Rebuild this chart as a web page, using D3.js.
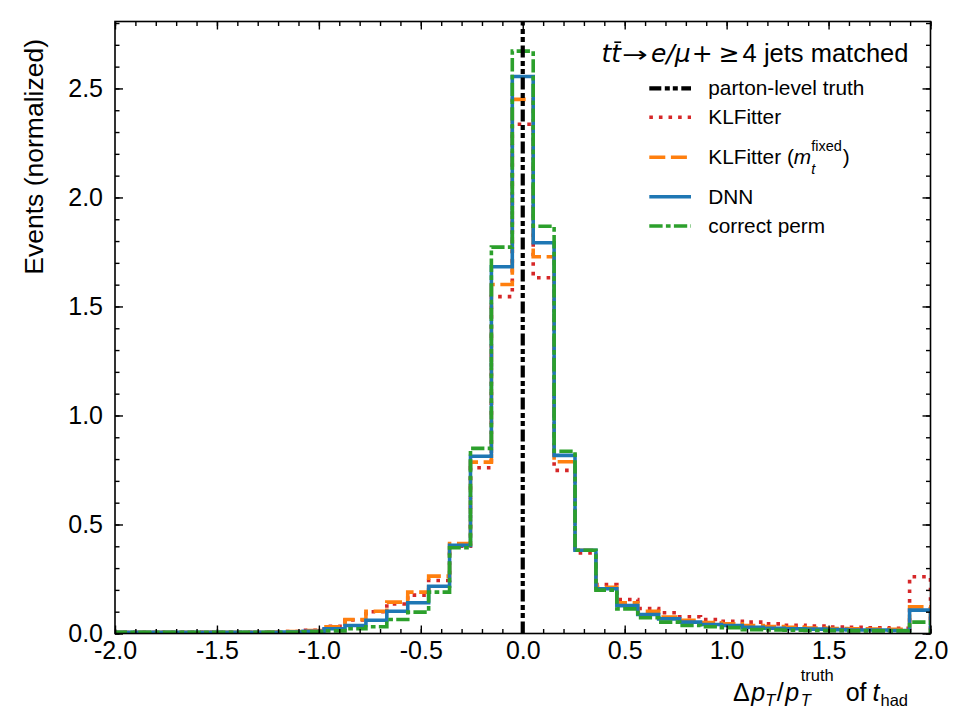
<!DOCTYPE html>
<html>
<head>
<meta charset="utf-8">
<script src="https://cdn.jsdelivr.net/npm/d3@7"></script>
<style>
  body { margin: 0; background: #fff; }
  svg text { font-family: "Liberation Sans", Arial, sans-serif; fill: #000; }
</style>
</head>
<body>
<div id="graph"></div>
<script>
// Limites del histograma y numero de bins (39 bins entre -2 y 2)
const limiteInferior = -2.0;
const limiteSuperior = 2.0;
const numBins = 39;

// Valor de la verdad a nivel de partones (linea vertical)
const valorVerdad = 0.0;

// Contenido de cada bin (normalizado)
const valoresKLFitter = [
    0.006, 0.006, 0.006, 0.006, 0.006, 0.006, 0.006, 0.007, 0.009, 0.015,
    0.033, 0.062, 0.100, 0.135, 0.176, 0.243, 0.400, 0.760, 1.545, 2.336,
    1.632, 0.748, 0.370, 0.225, 0.156, 0.115, 0.095, 0.077, 0.064, 0.056,
    0.052, 0.044, 0.038, 0.034, 0.030, 0.028, 0.026, 0.024, 0.260
];
const valoresKLFitterFijo = [
    0.006, 0.006, 0.006, 0.006, 0.006, 0.006, 0.006, 0.007, 0.009, 0.014,
    0.031, 0.064, 0.102, 0.144, 0.190, 0.263, 0.413, 0.786, 1.601, 2.450,
    1.728, 0.788, 0.382, 0.212, 0.141, 0.102, 0.075, 0.060, 0.050, 0.044,
    0.036, 0.032, 0.028, 0.025, 0.023, 0.021, 0.020, 0.019, 0.122
];
const valoresDNN = [
    0.006, 0.006, 0.006, 0.006, 0.006, 0.006, 0.006, 0.006, 0.007, 0.010,
    0.022, 0.037, 0.061, 0.102, 0.141, 0.217, 0.404, 0.813, 1.682, 2.555,
    1.792, 0.817, 0.382, 0.205, 0.128, 0.087, 0.067, 0.052, 0.041, 0.037,
    0.028, 0.024, 0.022, 0.020, 0.018, 0.016, 0.016, 0.014, 0.107
];
const valoresCorrectPerm = [
    0.006, 0.006, 0.006, 0.006, 0.006, 0.006, 0.006, 0.006, 0.006, 0.008,
    0.012, 0.022, 0.031, 0.064, 0.098, 0.190, 0.393, 0.849, 1.772, 2.671,
    1.868, 0.836, 0.382, 0.199, 0.113, 0.072, 0.052, 0.037, 0.031, 0.027,
    0.018, 0.016, 0.015, 0.014, 0.013, 0.012, 0.012, 0.012, 0.052
];

// Etiquetas de los ejes
const xTicks = [-2.0, -1.5, -1.0, -0.5, 0.0, 0.5, 1.0, 1.5, 2.0];
const yTicks = [0.0, 0.5, 1.0, 1.5, 2.0, 2.5];
const yMaximo = 2.807;

// Series: valores, color y estilo de linea
const series = [
    {valores: valoresKLFitter, color: "#d62728", dash: "3.6,6"},
    {valores: valoresKLFitterFijo, color: "#ff7f0e", dash: "16,5.6"},
    {valores: valoresDNN, color: "#1f77b4", dash: null},
    {valores: valoresCorrectPerm, color: "#2ca02c", dash: "13.3,3.3,4.7,3.3"}
];
const dashVerdad = "12,3.5,5,3,5,3.5";

// Margenes y dimensiones
const margin = {top: 21.5, right: 29.5, bottom: 86.5, left: 115};
const width = 960 - margin.left - margin.right;
const height = 720 - margin.top - margin.bottom;

const fuenteMate = "DejaVu Sans";

let svg, xScale, yScale;

// Escribe un texto con partes en cursiva, subindices y superindices
function textoMatematico(padre, x, y, partes, alineacion) {
    const g = padre.append("g");
    let cursor = 0, inicioPrevio = 0;
    partes.forEach(p => {
        const t = g.append("text")
            .attr("font-size", p.size)
            .attr("font-style", p.italic ? "italic" : "normal")
            .text(p.text);
        if (p.fuente) t.style("font-family", p.fuente);
        const escala = p.escalaX || 1;
        const ancho = t.node().getComputedTextLength() * escala;
        // si se apila, empieza donde empezo la parte anterior (sub + sup)
        const xi = p.apilar ? inicioPrevio : cursor + (p.dx || 0);
        if (escala !== 1) {
            t.attr("transform", `translate(${xi},${p.dy || 0}) scale(${escala},1)`);
        } else {
            t.attr("x", xi).attr("y", p.dy || 0);
        }
        if (p.barra) {
            g.append("line")
                .attr("x1", xi + ancho * 0.3).attr("x2", xi + ancho * 1.0)
                .attr("y1", -p.size * 0.78).attr("y2", -p.size * 0.78)
                .attr("stroke", "black").attr("stroke-width", 1.6);
        }
        inicioPrevio = xi;
        cursor = Math.max(cursor, xi + ancho);
    });
    let desplazamiento = 0;
    if (alineacion === "end") desplazamiento = -cursor;
    if (alineacion === "middle") desplazamiento = -cursor / 2;
    g.attr("transform", `translate(${x + desplazamiento},${y})`);
}

function CrearGrafico() {
    d3.select("#graph").selectAll("*").remove();

    const raiz = d3.select("#graph")
        .append("svg")
            .attr("width", 960)
            .attr("height", 720);

    svg = raiz.append("g")
        .attr("transform", `translate(${margin.left},${margin.top})`);

    xScale = d3.scaleLinear().domain([limiteInferior, limiteSuperior]).range([0, width]);
    yScale = d3.scaleLinear().domain([0, yMaximo]).range([height, 0]);

    // Zona de recorte para los histogramas
    raiz.append("defs").append("clipPath").attr("id", "recorte")
        .append("rect").attr("width", width).attr("height", height);

    // Bordes de los bins
    const bordes = d3.range(numBins + 1).map(i => limiteInferior + i * (limiteSuperior - limiteInferior) / numBins);

    const line = d3.line().x(d => xScale(d[0])).y(d => yScale(d[1]));

    const grupoLineas = svg.append("g").attr("clip-path", "url(#recorte)");

    // Dibujamos cada histograma tipo "step"
    series.forEach(s => {
        const puntos = [[bordes[0], 0]];
        s.valores.forEach((v, i) => {
            puntos.push([bordes[i], v]);
            puntos.push([bordes[i + 1], v]);
        });
        puntos.push([bordes[numBins], 0]);
        grupoLineas.append("path")
            .attr("d", line(puntos))
            .attr("fill", "none")
            .attr("stroke", s.color)
            .attr("stroke-width", 3.6)
            .attr("stroke-dasharray", s.dash)
            .attr("stroke-linejoin", "miter");
    });

    // Linea vertical de la verdad a nivel de partones
    grupoLineas.append("line")
        .attr("x1", xScale(valorVerdad)).attr("x2", xScale(valorVerdad))
        .attr("y1", height).attr("y2", 0)
        .attr("stroke", "black")
        .attr("stroke-width", 4.2)
        .attr("stroke-dasharray", dashVerdad);

    // Ejes con marcas hacia dentro en los cuatro lados
    const minorX = d3.range(-20, 21).map(i => i / 10);
    const minorY = d3.range(0, 29).map(i => i / 10);

    const ejes = [
        svg.append("g").attr("transform", `translate(0,${height})`)
            .call(d3.axisBottom(xScale).tickValues(xTicks).tickSize(-8).tickPadding(8).tickFormat(d => d.toFixed(1))),
        svg.append("g").attr("transform", `translate(0,${height})`)
            .call(d3.axisBottom(xScale).tickValues(minorX).tickSize(-4.5).tickFormat("")),
        svg.append("g")
            .call(d3.axisTop(xScale).tickValues(xTicks).tickSize(-8).tickFormat("")),
        svg.append("g")
            .call(d3.axisTop(xScale).tickValues(minorX).tickSize(-4.5).tickFormat("")),
        svg.append("g")
            .call(d3.axisLeft(yScale).tickValues(yTicks).tickSize(-8).tickPadding(12).tickFormat(d => d.toFixed(1))),
        svg.append("g")
            .call(d3.axisLeft(yScale).tickValues(minorY).tickSize(-4.5).tickFormat("")),
        svg.append("g").attr("transform", `translate(${width},0)`)
            .call(d3.axisRight(yScale).tickValues(yTicks).tickSize(-8).tickFormat("")),
        svg.append("g").attr("transform", `translate(${width},0)`)
            .call(d3.axisRight(yScale).tickValues(minorY).tickSize(-4.5).tickFormat(""))
    ];
    ejes.forEach(e => {
        e.select(".domain").remove();
        e.selectAll(".tick line").attr("stroke", "black").attr("stroke-width", 1.4);
        e.selectAll(".tick text").attr("font-size", 25).attr("font-family", "Liberation Sans").attr("fill", "black");
    });

    // Marco
    svg.append("rect")
        .attr("width", width).attr("height", height)
        .attr("fill", "none").attr("stroke", "black").attr("stroke-width", 1.6);

    // Titulo del eje Y
    raiz.append("text")
        .attr("transform", "translate(43,39) rotate(-90)")
        .attr("text-anchor", "end")
        .attr("font-size", 26.5)
        .text("Events (normalized)");

    // Titulo del eje X
    textoMatematico(raiz, 908, 701, [
        {text: "Δ", size: 25},
        {text: "p", size: 25, italic: true, dx: 1.5},
        {text: "T", size: 16.5, italic: true, dy: 5},
        {text: "/", size: 25, dx: 1.5},
        {text: "p", size: 25, italic: true, dx: 1.5},
        {text: "T", size: 16.5, italic: true, dy: 5, dx: 1.5},
        {text: "truth", size: 16.5, dy: -20, apilar: true},
        {text: "of", size: 25, dx: 12},
        {text: "t", size: 25, italic: true, dx: 6},
        {text: "had", size: 16.5, dy: 5, dx: 1}
    ], "end");

    dibujarLeyenda(raiz);
}

function dibujarLeyenda(raiz) {
    const xHandle = 649.3, largoHandle = 41.7, xTexto = 708.3;
    const filas = [88.3, 117.3, 157.3, 196.7, 226];
    const g = raiz.append("g");

    // Titulo de la leyenda centrado
    textoMatematico(g, 755, 61.7, [
        {text: "t", size: 25, italic: true, fuente: fuenteMate},
        {text: "t", size: 25, italic: true, fuente: fuenteMate, barra: true},
        {text: "→", size: 22, fuente: fuenteMate, escalaX: 1.4, dx: 1},
        {text: "e/μ", size: 25, italic: true, fuente: fuenteMate, dx: 3},
        {text: "+", size: 25, fuente: fuenteMate, dx: 1},
        {text: "≥", size: 25, fuente: fuenteMate, dx: 6},
        {text: "4 jets matched", size: 25.5, dx: 3}
    ], "middle");

    const estilos = [{color: "black", dash: dashVerdad, ancho: 4.2}]
        .concat(series.map(s => ({color: s.color, dash: s.dash, ancho: 3.6})));

    estilos.forEach((e, i) => {
        g.append("line")
            .attr("x1", xHandle).attr("x2", xHandle + largoHandle)
            .attr("y1", filas[i]).attr("y2", filas[i])
            .attr("stroke", e.color)
            .attr("stroke-width", e.ancho)
            .attr("stroke-dasharray", e.dash);
    });

    const simples = ["parton-level truth", "KLFitter", null, "DNN", "correct perm"];
    simples.forEach((t, i) => {
        if (t === null) return;
        g.append("text")
            .attr("x", xTexto).attr("y", filas[i] + 7)
            .attr("font-size", 20.8)
            .text(t);
    });

    // KLFitter (m_t^fixed)
    textoMatematico(g, xTexto, filas[2] + 7, [
        {text: "KLFitter (", size: 20.8},
        {text: "m", size: 20.8, italic: true},
        {text: "t", size: 14.5, italic: true, dy: 10},
        {text: "fixed", size: 14.5, dy: -13, apilar: true},
        {text: ")", size: 20.8, dx: 1}
    ], "start");
}

CrearGrafico();
</script>
</body>
</html>
